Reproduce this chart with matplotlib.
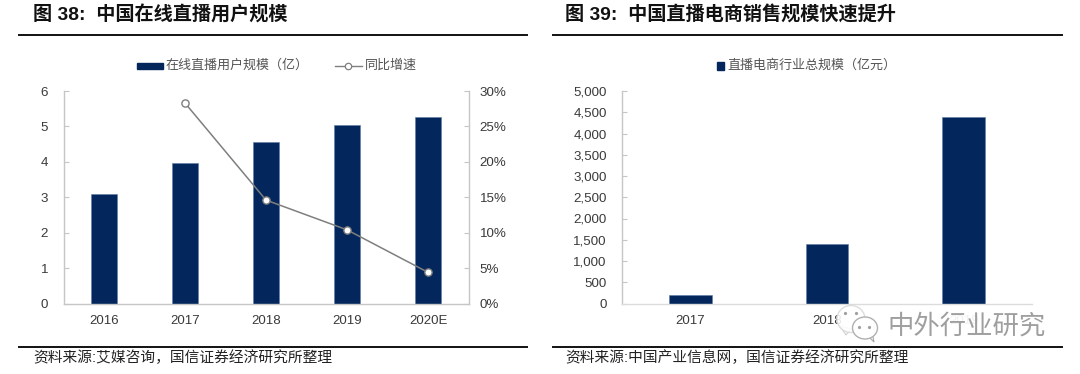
import matplotlib
matplotlib.use('Agg')
import matplotlib.pyplot as plt
from matplotlib.patches import Ellipse, Polygon, Rectangle
from matplotlib.ticker import FuncFormatter

plt.rcParams['font.family'] = ['Liberation Sans', 'Noto Sans CJK SC', 'DejaVu Sans']

W, H = 1080, 374
NAVY = '#03275c'
GREY = '#c6c6c6'
LIGHT = '#dcdcdc'
TXT = '#3a3a3a'

years_l = ['2016', '2017', '2018', '2019', '2020E']
users = [3.1, 3.98, 4.56, 5.03, 5.26]
growth = [28.3, 14.6, 10.4, 4.4]
yticks_l = [0, 1, 2, 3, 4, 5, 6]
pct_ticks = [0, 5, 10, 15, 20, 25, 30]

years_r = ['2017', '2018', '2019']
sales = [200, 1400, 4400]
yticks_r = [0, 500, 1000, 1500, 2000, 2500, 3000, 3500, 4000, 4500, 5000]

title_l = '图 38:  中国在线直播用户规模'
title_r = '图 39:  中国直播电商销售规模快速提升'
source_l = '资料来源:艾媒咨询，国信证券经济研究所整理'
source_r = '资料来源:中国产业信息网，国信证券经济研究所整理'
legend_bar_l = '在线直播用户规模（亿）'
legend_line_l = '同比增速'
legend_bar_r = '直播电商行业总规模（亿元）'
watermark = '中外行业研究'


def make_axes(fig, x0, x1, y0, y1):
    return fig.add_axes([x0 / W, 1 - y1 / H, (x1 - x0) / W, (y1 - y0) / H])


def style_axis(ax, color):
    for s in ['top', 'right']:
        ax.spines[s].set_visible(False)
    for s in ['left', 'bottom']:
        ax.spines[s].set_color(color)
        ax.spines[s].set_linewidth(1.0)
    ax.spines['left'].set_color(GREY)
    ax.tick_params(axis='y', direction='in', length=3.3, width=0.8, color=GREY,
                   labelsize=9.6, labelcolor=TXT, pad=11)
    ax.tick_params(axis='x', length=0, labelsize=9.5, labelcolor=TXT, pad=8.5)


def page_text(fig, x, y, s, **kw):
    return fig.text(x / W, 1 - y / H, s, va='center', **kw)


def page_rule(fig, x0, x1, y):
    fig.add_artist(plt.Line2D([x0 / W, x1 / W], [1 - y / H, 1 - y / H], color='#111111', lw=1.4))


fig = plt.figure(figsize=(W / 100, H / 100), dpi=100, facecolor='white')

# left chart
ax = make_axes(fig, 63.5, 468.5, 91, 303.5)
ax.bar(range(len(users)), users, width=0.317, color=NAVY, edgecolor='#5f7ba5', linewidth=0.4)
ax.set_xlim(-0.5, 4.5)
ax.set_ylim(0, 6)
ax.set_yticks(yticks_l)
ax.set_xticks(range(len(years_l)))
ax.set_xticklabels(years_l)
style_axis(ax, GREY)

ax2 = ax.twinx()
ax2.plot(range(1, 5), growth, color='#7f7f7f', lw=1.1, marker='o', ms=5.2,
         mfc='white', mec='#7f7f7f', mew=1.0)
ax2.set_ylim(0, 30)
ax2.set_yticks(pct_ticks)
ax2.yaxis.set_major_formatter(FuncFormatter(lambda v, p: '%d%%' % v))
for s in ['top', 'left', 'bottom']:
    ax2.spines[s].set_visible(False)
ax2.spines['right'].set_color(GREY)
ax2.spines['right'].set_linewidth(1.0)
ax2.tick_params(axis='y', direction='in', length=3.3, width=0.8, color=GREY,
                labelsize=9.6, labelcolor=TXT, pad=8)

# right chart
ax3 = make_axes(fig, 622, 1032, 91, 303.5)
ax3.bar(range(len(sales)), sales, width=0.312, color=NAVY, edgecolor='#5f7ba5', linewidth=0.4)
ax3.set_xlim(-0.5, 2.5)
ax3.set_ylim(0, 5000)
ax3.set_yticks(yticks_r)
ax3.yaxis.set_major_formatter(FuncFormatter(lambda v, p: format(int(v), ',')))
ax3.set_xticks(range(len(years_r)))
ax3.set_xticklabels(years_r)
style_axis(ax3, LIGHT)

# titles, rules, sources
page_text(fig, 33, 15.5, title_l, fontsize=13.8, fontweight='bold', color='#111111')
page_text(fig, 565, 15.5, title_r, fontsize=13.8, fontweight='bold', color='#111111')
page_rule(fig, 19, 527, 34.5)
page_rule(fig, 553, 1062, 34.5)
page_rule(fig, 19, 527, 347)
page_rule(fig, 553, 1062, 347)
page_text(fig, 33, 358, source_l, fontsize=10.6, color='#222222')
page_text(fig, 565, 358, source_r, fontsize=10.6, color='#222222')

# legends placed by hand to sit where the original has them
fig.add_artist(Rectangle((137 / W, 1 - 69 / H), 26 / W, 6.5 / H, color=NAVY,
                         transform=fig.transFigure))
page_text(fig, 166, 65.5, legend_bar_l, fontsize=9.4, color='#555555')
fig.add_artist(plt.Line2D([335 / W, 361.5 / W], [1 - 65.7 / H, 1 - 65.7 / H], color='#7f7f7f', lw=1.0))
fig.add_artist(plt.Line2D([348 / W], [1 - 65.7 / H], color='#7f7f7f', marker='o', ms=4.6,
                          mfc='white', mec='#7f7f7f', mew=0.9))
page_text(fig, 365, 65.5, legend_line_l, fontsize=9.4, color='#555555')
fig.add_artist(Rectangle((716.5 / W, 1 - 69.5 / H), 7.5 / W, 7.5 / H, color=NAVY,
                         transform=fig.transFigure))
page_text(fig, 727, 65.5, legend_bar_r, fontsize=9.4, color='#555555')

# wechat style watermark on top of everything
wm = fig.add_axes([0, 0, 1, 1], facecolor='none')
wm.set_xlim(0, W)
wm.set_ylim(H, 0)
wm.axis('off')
wm.add_patch(Rectangle((885, 310), 162, 32, fc='white', ec='none', alpha=0.93))
wm.add_patch(Polygon([[840, 326], [846, 335], [851, 329]], fc='white', ec='#d0d0d0', lw=0.8))
wm.add_patch(Ellipse((851, 319), 28, 27, fc='white', ec='#d8d8d8', lw=1.0, alpha=0.88))
wm.add_patch(Polygon([[866, 334], [874, 342], [872, 332]], fc='white', ec='#a8a8a8', lw=0.8))
wm.add_patch(Ellipse((865, 328), 25, 22, fc='white', ec='#b0b0b0', lw=1.0))
wm.plot([845, 856, 859, 869], [313, 313, 327, 327], ls='none', marker='o', ms=1.3, color='#a0a0a0')
wm.text(887, 326, watermark, fontsize=19, color='#9a9a9a', va='center', alpha=0.95)

fig.savefig('out.png', dpi=100, facecolor='white')
